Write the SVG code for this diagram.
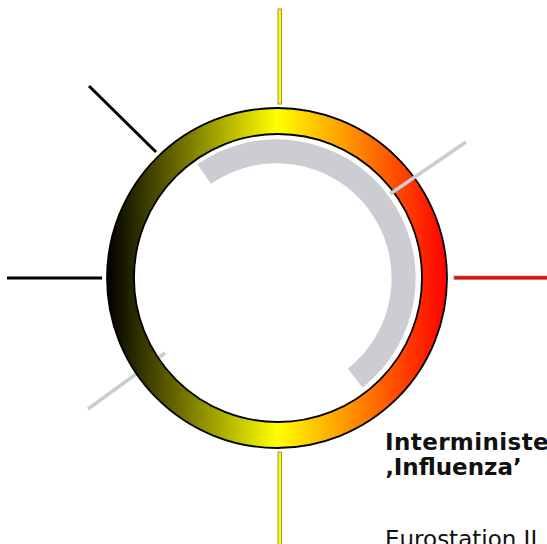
<svg xmlns="http://www.w3.org/2000/svg" width="547" height="544" viewBox="0 0 547 544">
<defs>
<linearGradient id="ringGrad" gradientUnits="userSpaceOnUse" x1="107" y1="0" x2="447" y2="0">
<stop offset="0" stop-color="#000000"/>
<stop offset="0.5" stop-color="#ffff00"/>
<stop offset="1" stop-color="#ff0000"/>
</linearGradient>
<style>
.gray{stroke:#c9ccd2;stroke-width:3.5;fill:none}
.blk{stroke:#000;stroke-width:3;fill:none}
.ylw{fill:#ffff00;stroke:#7a7a50;stroke-width:0.8}
.red{fill:#ff0000;stroke:#8a8a8a;stroke-width:0.8}
.t{font-family:"DejaVu Sans","Liberation Sans",sans-serif;font-size:23px;fill:#111}
</style>
</defs>
<rect width="547" height="544" fill="#ffffff"/>
<g id="connectors">
<line class="gray" x1="88" y1="409" x2="165" y2="353"/>
<line class="blk" x1="7" y1="278" x2="102" y2="278"/>
<line class="blk" x1="89" y1="86" x2="156" y2="152"/>
<rect class="ylw" x="278" y="9" width="3.5" height="95"/>
<rect class="ylw" x="278" y="452" width="3.5" height="94"/>
<rect class="red" x="454" y="276" width="95" height="3.5"/>
</g>
<g id="ring">
<path d="M107,278 a170,170 0 1,0 340,0 a170,170 0 1,0 -340,0 Z M134,278 a144,144 0 1,0 288,0 a144,144 0 1,0 -288,0 Z" fill="url(#ringGrad)" fill-rule="evenodd" stroke="#000" stroke-width="1.8"/>
</g>
<g id="arc">
<path d="M204.2,174 A127,127 0 0,1 355.2,378.1" fill="none" stroke="#cbcdd3" stroke-width="24"/>
</g>
<g id="connectors-top">
<line class="gray" x1="390" y1="194" x2="466" y2="142"/>
</g>
<g id="label">
<text class="t" x="385" y="450" font-weight="bold" letter-spacing="0.4">Interministe</text>
<text class="t" x="385" y="475" font-weight="bold">‚Influenza’</text>
<text class="t" x="385" y="547">Eurostation II</text>
</g>
</svg>
